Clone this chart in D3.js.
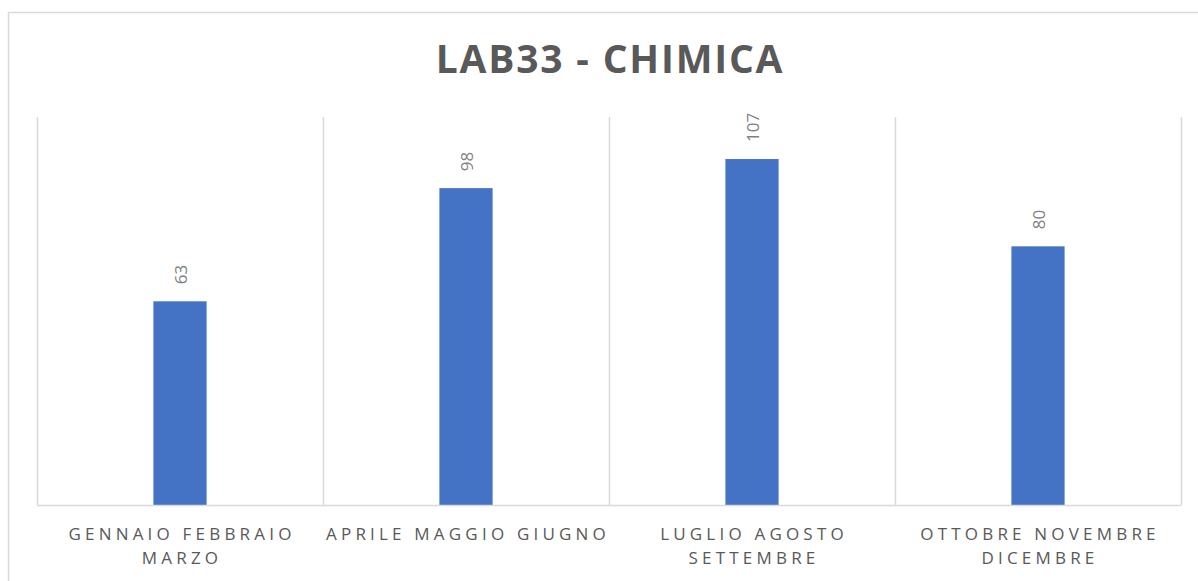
<!DOCTYPE html>
<html>
  <head>
    <meta charset="utf-8">
    <script type="text/javascript" src="https://d3js.org/d3.v7.min.js"></script>
    <title>LAB33 - CHIMICA</title>
    <style>
      body { margin: 0; background: #fff; }
      svg { display: block; font-family: "Open Sans", sans-serif; }
    </style>
  </head>
  <body>
    <script type="text/javascript">

    var title = "LAB33 - CHIMICA";
    var categories = ["GENNAIO FEBBRAIO MARZO", "APRILE MAGGIO GIUGNO", "LUGLIO AGOSTO SETTEMBRE", "OTTOBRE NOVEMBRE DICEMBRE"];
    var values = [63, 98, 107, 80];
    var yDomain = [0, 120];

    var W = 1198, H = 581;
    var margin = {top: 117, right: 17, bottom: 76, left: 37};
    var width = W - margin.left - margin.right,
        height = H - margin.top - margin.bottom;

    var svg = d3.select("body").append("svg")
        .attr("width", W)
        .attr("height", H);

    // chart border
    svg.append("rect")
        .attr("x", 8.5).attr("y", 12.5)
        .attr("width", W).attr("height", H)
        .attr("fill", "none")
        .attr("stroke", "#d9d9d9")
        .attr("stroke-width", 1.5);

    svg.append("text")
        .attr("x", margin.left + width / 2 + 1)
        .attr("y", 73)
        .attr("text-anchor", "middle")
        .attr("fill", "#595959")
        .style("font-size", "39px")
        .style("font-weight", "bold")
        .style("letter-spacing", "1.8px")
        .text(title);

    var g = svg.append("g")
        .attr("transform", "translate(" + margin.left + "," + margin.top + ")");

    var x = d3.scaleBand().domain(categories).range([0, width]).paddingInner(0).paddingOuter(0);
    var y = d3.scaleLinear().domain(yDomain).range([height, 0]);

    // vertical gridlines at category boundaries
    var bounds = categories.map(function(c) { return x(c); }).concat([width]);
    g.selectAll(".grid")
      .data(bounds)
      .enter().append("line")
        .attr("x1", function(d) { return Math.round(d) + 0.5; })
        .attr("x2", function(d) { return Math.round(d) + 0.5; })
        .attr("y1", 0).attr("y2", height)
        .attr("stroke", "#d9d9d9")
        .attr("stroke-width", 1.5);

    var barW = x.bandwidth() * 0.186;

    g.selectAll(".bar")
      .data(values)
      .enter().append("rect")
        .attr("x", function(d, i) { return x(categories[i]) + x.bandwidth() / 2 - barW / 2; })
        .attr("y", function(d) { return y(d); })
        .attr("width", barW)
        .attr("height", function(d) { return height - y(d); })
        .attr("fill", "#4472c4");

    // baseline
    g.append("line")
        .attr("x1", 0).attr("x2", width)
        .attr("y1", height + 0.5).attr("y2", height + 0.5)
        .attr("stroke", "#d9d9d9")
        .attr("stroke-width", 1.5);

    // data labels
    g.selectAll(".lbl")
      .data(values)
      .enter().append("text")
        .attr("transform", function(d, i) {
          return "translate(" + (x(categories[i]) + x.bandwidth() / 2 + 1) + "," + (y(d) - 17) + ") rotate(-90)";
        })
        .attr("dy", "0.35em")
        .attr("fill", "#7f7f7f")
        .style("font-size", "17px")
        .text(function(d) { return d; });

    // category labels, wrapped
    var xAxis = d3.axisBottom(x).tickSize(0).tickPadding(0);
    var ax = g.append("g")
        .attr("transform", "translate(0," + height + ")")
        .call(xAxis);
    ax.select(".domain").remove();
    ax.selectAll("text")
        .attr("fill", "#595959")
        .style("font-family", "\"Open Sans\", sans-serif")
        .style("font-size", "17px")
        .style("letter-spacing", "4.2px")
        .call(wrap, x.bandwidth() + 12);

    function wrap(sel, maxW) {
      sel.each(function() {
        var t = d3.select(this);
        var words = t.text().split(/\s+/);
        t.text(null);
        var lines = [], line = [];
        var probe = t.append("tspan");
        words.forEach(function(w) {
          line.push(w);
          probe.text(line.join(" "));
          if (probe.node().getComputedTextLength() > maxW && line.length > 1) {
            line.pop();
            lines.push(line.join(" "));
            line = [w];
          }
        });
        lines.push(line.join(" "));
        probe.remove();
        lines.forEach(function(l, k) {
          t.append("tspan")
            .attr("x", 2)
            .attr("y", 35 + k * 24)
            .attr("dy", 0)
            .text(l);
        });
      });
    }

    </script>
  </body>
</html>
